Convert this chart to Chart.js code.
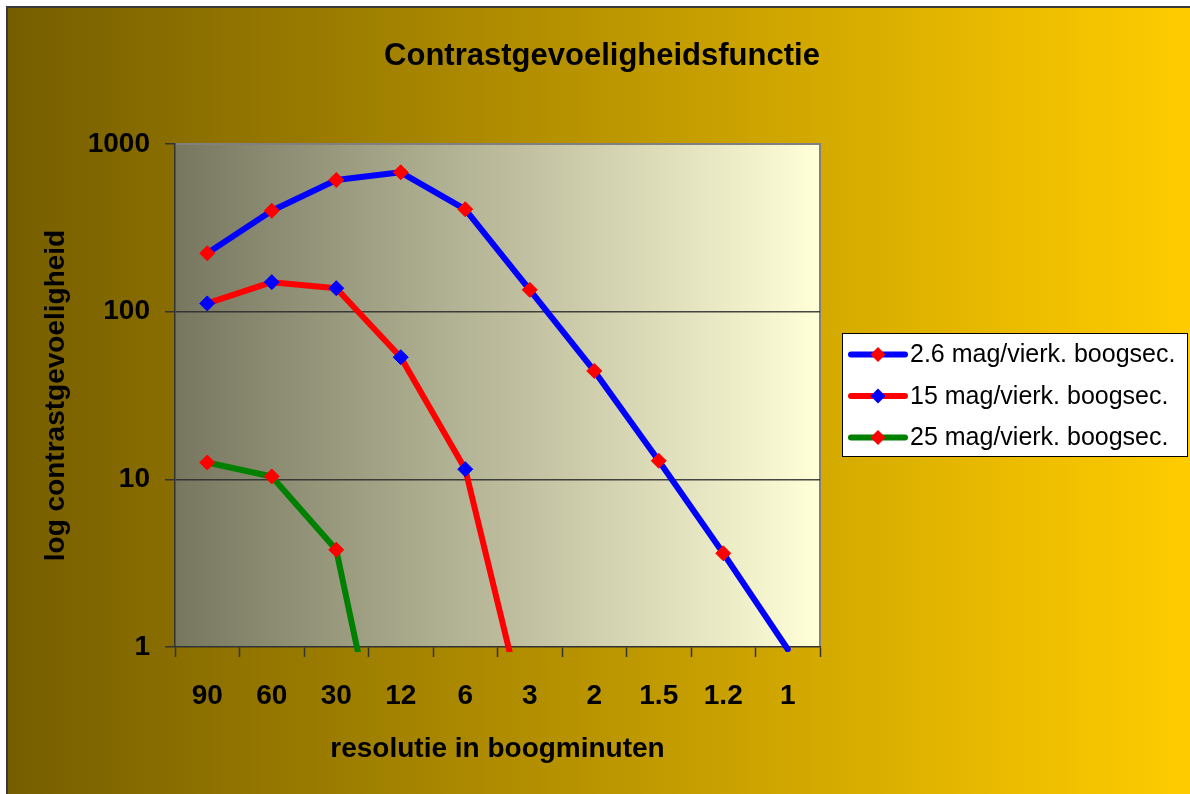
<!DOCTYPE html>
<html><head><meta charset="utf-8">
<script src="https://cdn.jsdelivr.net/npm/chart.js@4.4.1/dist/chart.umd.min.js"></script>
<style>html,body{margin:0;padding:0;background:#fff}#wrap{width:1190px;height:794px;position:relative}</style>
</head><body><div id="wrap"><canvas id="c"></canvas></div>
<script>
const categories = ['90', '60', '30', '12', '6', '3', '2', '1.5', '1.2', '1'];
const series26 = [223, 400, 610, 678, 408, 135, 44.3, 12.9, 3.62, 0.97];
const series15 = [112, 150, 138, 53.5, 11.5, 0.3, null, null, null, null];
const series25 = [12.6, 10.4, 3.8, 0.058, null, null, null, null, null, null];
const yTicks = [1, 10, 100, 1000];
const seriesNames = ['2.6 mag/vierk. boogsec.', '15 mag/vierk. boogsec.', '25 mag/vierk. boogsec.'];
const chartTitle = 'Contrastgevoeligheidsfunctie';
const xTitle = 'resolutie in boogminuten';
const yTitle = 'log contrastgevoeligheid';
const FONT = '"Liberation Sans", Arial, Helvetica, sans-serif';

const bgPlugin = {
  id: 'bg',
  beforeDraw(chart) {
    const {ctx, chartArea: a, width, height} = chart;
    ctx.save();
    ctx.fillStyle = '#fff'; ctx.fillRect(0, 0, width, height);
    const g = ctx.createLinearGradient(7, 0, width, 0);
    g.addColorStop(0, '#765e00'); g.addColorStop(1, '#ffcc00');
    ctx.fillStyle = g; ctx.fillRect(7, 7, width - 7, height - 7);
    ctx.strokeStyle = '#3a3a3a'; ctx.lineWidth = 2;
    ctx.beginPath(); ctx.moveTo(7, height); ctx.lineTo(7, 7); ctx.lineTo(width, 7); ctx.stroke();
    const pg = ctx.createLinearGradient(a.left, 0, a.right, 0);
    pg.addColorStop(0, '#777760'); pg.addColorStop(1, '#ffffd8');
    ctx.fillStyle = pg; ctx.fillRect(a.left, a.top, a.right - a.left, a.bottom - a.top);
    ctx.strokeStyle = '#808080'; ctx.lineWidth = 2;
    ctx.beginPath(); ctx.moveTo(a.left, a.top); ctx.lineTo(a.right, a.top); ctx.lineTo(a.right, a.bottom); ctx.stroke();
    ctx.fillStyle = '#000'; ctx.font = 'bold 31px ' + FONT; ctx.textAlign = 'center'; ctx.textBaseline = 'alphabetic';
    ctx.fillText(chartTitle, 602, 65);
    ctx.restore();
  }
};

const legendPlugin = {
  id: 'customLegend',
  afterDraw(chart) {
    const ctx = chart.ctx;
    const x0 = 842, y0 = 333, w = 346, h = 124;
    ctx.save();
    ctx.fillStyle = '#fff'; ctx.fillRect(x0, y0, w, h);
    ctx.strokeStyle = '#000'; ctx.lineWidth = 1; ctx.strokeRect(x0 + 0.5, y0 + 0.5, w - 1, h - 1);
    chart.data.datasets.forEach((ds, i) => {
      const y = 354.5 + i * 41.5;
      ctx.strokeStyle = ds.borderColor; ctx.lineWidth = 6; ctx.lineCap = 'round';
      ctx.beginPath(); ctx.moveTo(851, y); ctx.lineTo(905, y); ctx.stroke();
      ctx.fillStyle = ds.pointBackgroundColor;
      ctx.beginPath(); ctx.moveTo(870.5, y); ctx.lineTo(878, y - 7.5); ctx.lineTo(885.5, y); ctx.lineTo(878, y + 7.5); ctx.closePath(); ctx.fill();
      ctx.fillStyle = '#000'; ctx.font = '25px ' + FONT; ctx.textAlign = 'left'; ctx.textBaseline = 'middle';
      ctx.fillText(ds.label, 910, y + 1);
    });
    ctx.restore();
  }
};

const radiusFn = c => (c.raw != null && c.raw >= 1) ? 7.5 : 0;
function makeDs(label, data, line, marker) {
  return {
    label, data,
    borderColor: line, borderWidth: 6,
    pointStyle: 'rectRot', pointRadius: radiusFn, pointHoverRadius: radiusFn,
    pointBackgroundColor: marker, pointBorderColor: marker, pointBorderWidth: 1,
    borderJoinStyle: 'round', borderCapStyle: 'round',
    tension: 0, spanGaps: false, fill: false,
    clip: {left: 5, top: 5, right: 5, bottom: 5}
  };
}

const tickFont = {family: FONT, size: 28, weight: 'bold'};

new Chart(document.getElementById('c'), {
  type: 'line',
  data: {
    labels: categories,
    datasets: [
      makeDs(seriesNames[0], series26, '#0000ff', '#ff0000'),
      makeDs(seriesNames[1], series15, '#ff0000', '#0000ff'),
      makeDs(seriesNames[2], series25, '#008000', '#ff0000')
    ]
  },
  options: {
    responsive: true, maintainAspectRatio: false, animation: false,
    layout: {padding: {left: 0, top: 144, right: 370, bottom: 0}},
    plugins: {legend: {display: false}, tooltip: {enabled: false}, title: {display: false}},
    scales: {
      x: {
        type: 'category', offset: true,
        grid: {offset: true, drawOnChartArea: false, drawTicks: true, tickLength: 10, tickColor: '#333', tickWidth: 1.5},
        border: {display: true, color: '#333', width: 1.5},
        ticks: {color: '#000', font: tickFont, padding: 22, maxRotation: 0, autoSkip: false},
        title: {display: true, text: xTitle, color: '#000', font: tickFont, padding: {top: 0, bottom: 28}},
        afterFit(s) { s.height = 147; }
      },
      y: {
        type: 'logarithmic', min: 1, max: 1000,
        afterBuildTicks(s) { s.ticks = yTicks.map(v => ({value: v})); },
        grid: {
          color: c => (c.tick && (c.tick.value === 10 || c.tick.value === 100)) ? 'rgba(40,40,40,0.85)' : 'rgba(0,0,0,0)',
          lineWidth: 1.5, tickLength: 10, tickColor: '#333', tickWidth: 1.5
        },
        border: {display: true, color: '#333', width: 1.5},
        ticks: {callback: v => String(v), color: '#000', font: tickFont, padding: 15},
        title: {display: true, text: yTitle, color: '#000', font: tickFont, padding: {top: 39, bottom: 0}},
        afterFit(s) { s.width = 175; }
      }
    }
  },
  plugins: [bgPlugin, legendPlugin]
});
</script>
</body></html>
